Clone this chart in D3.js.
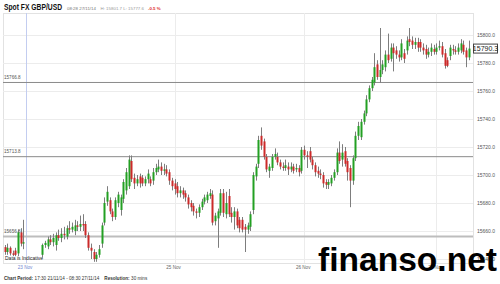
<!DOCTYPE html>
<html lang="en">
<head>
<meta charset="utf-8"/>
<title>Spot FX GBP/USD</title>
<script src="https://d3js.org/d3.v7.min.js"></script>
<style>
  body { margin: 0; background: #fff; }
  svg { display: block; font-family: "Liberation Sans", Arial, sans-serif; }
</style>
</head>
<body>
<div id="chart"></div>
<script>
// 30 minute candles, 17:30 21/11/14 - 08:30 27/11/14 (null = no bar)
const opens = [
  15648.5, 15645, 15648, 15644, 15646, 15644, 15659, 15651, null, null,
  null, null, null, null, 15643, 15650, 15649, 15654, 15652, 15650,
  15657, 15655, 15658, 15656, 15662, 15661, 15660, 15664, 15663, 15665,
  15665, 15657, 15648, 15645, 15640, 15643, 15651, 15666, 15681, 15682,
  15674, 15670, 15680, 15675, 15683, 15689, 15692, 15710, 15698, 15694,
  15699, 15698, 15694, 15697, 15697, 15696, 15702, 15704, 15706, 15703,
  15704, 15702, 15696, 15694, 15692, 15687, 15689, 15687, 15684, 15680,
  15678, 15674, 15673, 15677, 15681, 15682, 15685, 15686, 15667, 15669,
  15673, 15687, 15672, 15685, 15673, 15670, 15674, 15668, 15668, 15663,
  15661, 15663, 15675, 15699, 15708, 15728, 15724, 15713, 15703, 15705,
  15713, 15713, 15709, 15706, 15705, 15706, 15704, 15706, 15704, 15705,
  15703, 15718, 15714, 15717, 15711, 15707, 15703, 15701, 15700, 15695,
  15693, 15694, 15698, 15702, 15716, 15711, 15717, 15710, 15705, 15696,
  15712, 15728, 15727, 15738, 15744, 15754, 15762, 15766, 15779, 15770,
  15775, 15777, 15786, 15783, 15791, 15789, 15786, 15784, 15787, 15789,
  15797, 15796, 15793, 15795, 15795, 15791, 15790, 15786, 15788, 15790,
  15788, 15791, 15792, 15787, 15782, 15785, 15790, 15789, 15788, 15789,
  15793, 15789, 15784
];
const highs = [
  15650, 15651, 15649, 15646, 15648, 15661, 15662, 15668, null, null,
  null, null, null, null, 15651, 15653, 15656, 15657, 15658, 15659,
  15661, 15662, 15663, 15664, 15667, 15666, 15668, 15667, 15671, 15672,
  15667, 15659, 15651, 15647, 15645, 15650, 15666, 15684, 15692, 15684,
  15676, 15684, 15688, 15686, 15697, 15705, 15714, 15714, 15701, 15700,
  15701, 15700, 15699, 15704, 15699, 15705, 15708, 15711, 15709, 15708,
  15707, 15704, 15698, 15697, 15695, 15692, 15691, 15689, 15686, 15682,
  15680, 15676, 15679, 15683, 15686, 15688, 15690, 15689, 15673, 15676,
  15690, 15690, 15688, 15690, 15677, 15677, 15676, 15670, 15670, 15665,
  15666, 15674, 15702, 15708, 15728, 15734, 15726, 15715, 15708, 15715,
  15719, 15716, 15711, 15709, 15711, 15709, 15709, 15708, 15708, 15707,
  15720, 15721, 15717, 15720, 15713, 15709, 15706, 15704, 15702, 15697,
  15697, 15700, 15704, 15719, 15724, 15722, 15720, 15712, 15707, 15714,
  15731, 15738, 15740, 15746, 15757, 15764, 15770, 15787, 15782, 15805,
  15782, 15789, 15801, 15794, 15794, 15792, 15789, 15797, 15790, 15799,
  15805, 15799, 15798, 15798, 15797, 15794, 15793, 15791, 15794, 15793,
  15794, 15796, 15795, 15790, 15784, 15793, 15793, 15792, 15794, 15797,
  15796, 15791, 15796
];
const lows = [
  15643, 15643, 15642.5, 15642, 15642, 15642, 15649, 15647, null, null,
  null, null, null, null, 15641, 15648, 15647, 15650, 15649, 15646,
  15653, 15652, 15654, 15654, 15658, 15659, 15657, 15660, 15660, 15660,
  15655, 15646, 15640, 15638, 15638, 15641, 15648, 15664, 15678, 15672,
  15667, 15668, 15677, 15671, 15680, 15686, 15690, 15695, 15690, 15692,
  15691, 15692, 15692, 15694, 15692, 15693, 15700, 15702, 15700, 15700,
  15699, 15693, 15689, 15686, 15684, 15684, 15683, 15681, 15676, 15674,
  15671, 15669, 15670, 15675, 15679, 15680, 15683, 15664, 15664, 15648,
  15671, 15670, 15669, 15670, 15666, 15661, 15662, 15659, 15659, 15645,
  15658, 15660, 15672, 15696, 15705, 15718, 15711, 15702, 15698, 15703,
  15711, 15707, 15704, 15703, 15703, 15700, 15702, 15701, 15702, 15699,
  15701, 15711, 15705, 15709, 15704, 15699, 15698, 15697, 15691, 15690,
  15690, 15692, 15696, 15700, 15708, 15706, 15706, 15696, 15677, 15693,
  15710, 15725, 15725, 15736, 15742, 15752, 15760, 15764, 15768, 15766,
  15772, 15774, 15780, 15781, 15774, 15783, 15781, 15782, 15780, 15786,
  15792, 15790, 15790, 15788, 15788, 15786, 15783, 15784, 15785, 15786,
  15786, 15789, 15784, 15776, 15777, 15782, 15786, 15786, 15786, 15787,
  15786, 15777, 15782
];
const closes = [
  15645, 15648, 15644, 15643, 15643, 15659, 15651, 15652, null, null,
  null, null, null, null, 15650, 15651.5, 15654, 15652, 15655, 15657,
  15655, 15658, 15657, 15662, 15661, 15663, 15664, 15663, 15665, 15664,
  15657, 15648, 15646, 15640, 15643, 15647, 15664, 15680, 15688, 15674,
  15670, 15682, 15686, 15684, 15695, 15702, 15711, 15697, 15694, 15697,
  15694, 15694, 15697, 15701, 15694, 15702, 15705, 15706, 15703, 15704,
  15701, 15696, 15692, 15690, 15687, 15689, 15686, 15684, 15679, 15677,
  15674, 15673, 15677, 15681, 15684, 15686, 15687, 15666, 15671, 15674,
  15687, 15673, 15680, 15672, 15670, 15674, 15664, 15662, 15661, 15661,
  15664, 15672, 15700, 15706, 15725, 15721, 15713, 15704, 15706, 15713,
  15715, 15709, 15706, 15705, 15707, 15704, 15706, 15703, 15705, 15702,
  15718, 15714, 15713, 15711, 15707, 15702, 15701, 15700, 15694, 15693,
  15695, 15698, 15702, 15716, 15710, 15716, 15708, 15702, 15696, 15712,
  15728, 15735, 15738, 15744, 15754, 15762, 15768, 15777, 15770, 15775,
  15779, 15786, 15782, 15791, 15787, 15786, 15784, 15794, 15783, 15796,
  15795, 15793, 15795, 15791, 15791, 15789, 15786, 15788, 15791, 15788,
  15791, 15792, 15786, 15778, 15778, 15791, 15789, 15788, 15791, 15794,
  15788, 15784, 15790.3
];

const yTicks = [15640, 15660, 15680, 15700, 15720, 15740, 15760, 15780, 15800];
const dayLabels = ["23 Nov", "25 Nov", "26 Nov", "27 Nov"];
const dayIndex = [8, 63, 111, 160];
const levelValues = [15766.8, 15713.8, 15656.8];
const lastPrice = 15790.3;

const headerTime = "08:28 27/11/14";
const headerHighLow = "H: 15801.7 L: 15777.6";
const headerChange = "-0.5 %";

function drawChart() {
  let svgWidth = 500,
      svgHeight = 284;

  let plot = { left: 3, right: 473, top: 13, bottom: 263 };

  let svg = d3.select("#chart")
              .append("svg")
              .attr("width", svgWidth)
              .attr("height", svgHeight);

  let xScale = d3.scaleLinear()
                 .domain([0, opens.length - 1])
                 .range([4.5, 468.9]);

  let yScale = d3.scaleLinear()
                 .domain([15640, 15800])
                 .range([259, 35]);

  // frame
  svg.append("rect")
     .attr("x", plot.left + 0.5)
     .attr("y", plot.top + 0.5)
     .attr("width", plot.right - plot.left)
     .attr("height", plot.bottom - plot.top)
     .attr("fill", "#fff")
     .attr("stroke", "#e2e2e2");

  // horizontal grid + right labels
  let yAxis = d3.axisRight(yScale)
                .tickValues(yTicks)
                .tickSize(-(plot.right - plot.left))
                .tickPadding(4)
                .tickFormat(d3.format(".1f"));

  let gy = svg.append("g")
              .attr("transform", `translate(${plot.right}, 0)`)
              .call(yAxis);
  gy.select(".domain").remove();
  gy.selectAll(".tick line").attr("stroke", "#ececec");
  gy.selectAll(".tick text")
    .attr("fill", "#555")
    .attr("font-size", 5);

  // day separators
  svg.append("g")
     .selectAll("line")
     .data(dayIndex)
     .join("line")
     .attr("x1", d => Math.round(xScale(d)) + 0.5)
     .attr("x2", d => Math.round(xScale(d)) + 0.5)
     .attr("y1", plot.top)
     .attr("y2", plot.bottom)
     .attr("stroke", (d, i) => i === 0 ? "#c3cdf0" : "#ececec");

  svg.append("g")
     .selectAll("text")
     .data(dayLabels)
     .join("text")
     .attr("x", (d, i) => xScale(dayIndex[i]) - 1)
     .attr("y", 268.5)
     .attr("text-anchor", "middle")
     .attr("font-size", 4.6)
     .attr("fill", (d, i) => i === 0 ? "#6f86d0" : "#666")
     .text(d => d);

  // level lines
  let levelStyle = [
    { stroke: "#8a8a8a", width: 1 },
    { stroke: "#8a8a8a", width: 1 },
    { stroke: "#bdbdbd", width: 2 }
  ];
  svg.append("g")
     .selectAll("line")
     .data(levelValues)
     .join("line")
     .attr("x1", plot.left)
     .attr("x2", plot.right)
     .attr("y1", d => yScale(d) + 1)
     .attr("y2", d => yScale(d) + 1)
     .attr("stroke", (d, i) => levelStyle[i].stroke)
     .attr("stroke-width", (d, i) => levelStyle[i].width);

  svg.append("g")
     .selectAll("text")
     .data(levelValues)
     .join("text")
     .attr("x", 4)
     .attr("y", d => yScale(d) - 2.5)
     .attr("font-size", 4.6)
     .attr("fill", "#555")
     .text(d => d.toFixed(1));

  // candles
  let bars = d3.range(opens.length).filter(i => opens[i] !== null);

  svg.append("g")
     .selectAll("line")
     .data(bars)
     .join("line")
     .attr("x1", i => Math.round(xScale(i)) + 0.5)
     .attr("x2", i => Math.round(xScale(i)) + 0.5)
     .attr("y1", i => yScale(highs[i]))
     .attr("y2", i => yScale(lows[i]))
     .attr("stroke", "#7d7d7d")
     .attr("stroke-width", 1);

  svg.append("g")
     .selectAll("rect")
     .data(bars)
     .join("rect")
     .attr("x", i => Math.round(xScale(i)) - 0.5)
     .attr("width", 2)
     .attr("y", i => yScale(Math.max(opens[i], closes[i])))
     .attr("height", i => Math.max(1, Math.abs(yScale(opens[i]) - yScale(closes[i]))))
     .attr("fill", i => closes[i] >= opens[i] ? "#23a023" : "#cc2a2a");

  // last price box
  svg.append("rect")
     .attr("x", 473.5)
     .attr("y", yScale(lastPrice) - 4.5)
     .attr("width", 24)
     .attr("height", 9)
     .attr("fill", "#fff")
     .attr("stroke", "#444");

  svg.append("text")
     .attr("x", 485.5)
     .attr("y", yScale(lastPrice) + 2.5)
     .attr("text-anchor", "middle")
     .attr("font-size", 7)
     .attr("fill", "#222")
     .text(lastPrice.toFixed(1));

  // note
  svg.append("text")
     .attr("x", 5)
     .attr("y", 259.5)
     .attr("font-size", 5)
     .attr("fill", "#222")
     .text("Data is Indicative");

  // header (narrowed to fit like the original)
  svg.append("text")
     .attr("transform", "translate(4, 10) scale(0.75, 1)")
     .attr("font-size", 9)
     .attr("font-weight", "bold")
     .attr("fill", "#111")
     .text("Spot FX GBP/USD");

  let smallHead = [
    { x: 67, text: headerTime, fill: "#777", weight: "normal" },
    { x: 100.5, text: headerHighLow, fill: "#999", weight: "normal" },
    { x: 148, text: headerChange, fill: "#e03030", weight: "bold" }
  ];
  svg.append("g")
     .selectAll("text")
     .data(smallHead)
     .join("text")
     .attr("x", d => d.x)
     .attr("y", 9.5)
     .attr("font-size", 4.4)
     .attr("font-weight", d => d.weight)
     .attr("fill", d => d.fill)
     .text(d => d.text);

  // footer
  let foot = svg.append("text")
                .attr("x", 4)
                .attr("y", 280)
                .attr("font-size", 4.6)
                .attr("fill", "#333");
  foot.append("tspan").attr("font-weight", "bold").text("Chart Period:");
  foot.append("tspan").attr("dx", 1.5).text("17:30 21/11/14 - 08:30 27/11/14");
  foot.append("tspan").attr("dx", 5).attr("font-weight", "bold").text("Resolution:");
  foot.append("tspan").attr("dx", 1.5).text("30 mins");

  // watermark
  svg.append("text")
     .attr("x", 318)
     .attr("y", 271)
     .attr("font-size", 33)
     .attr("font-weight", "bold")
     .attr("fill", "#000")
     .attr("textLength", 179)
     .attr("lengthAdjust", "spacingAndGlyphs")
     .text("finanso.net");
}

drawChart();
</script>
</body>
</html>
